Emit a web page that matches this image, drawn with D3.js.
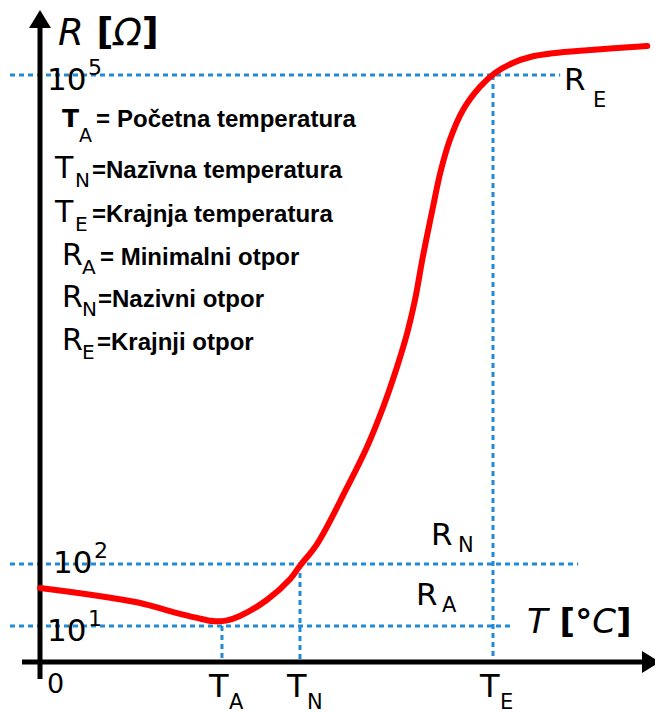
<!DOCTYPE html>
<html><head><meta charset="utf-8">
<script src="https://cdn.jsdelivr.net/npm/d3@7"></script>
<style>body{margin:0;background:#fff}svg{display:block}</style>
</head><body>
<script>
// ---- data ----
const curveT = [0, 5.5, 11.2, 16.7, 22.2, 26.2, 28.8, 31.0, 33.3, 37.8, 41.7, 43.3, 46.2, 51.2, 54.5, 57.2, 59.5, 61.2, 62.5, 63.8, 65.5, 66.7, 68.3, 70.5, 73.3, 75.8, 78.8, 81.7, 85.5, 91.2, 101.2];
const curveR = [41, 35, 29, 23.5, 16.8, 13.5, 12, 12.2, 14.5, 26.3, 57.3, 93, 133, 296, 522, 918, 1617, 2612, 4170, 7640, 15500, 25000, 39900, 61000, 84300, 102800, 118600, 129000, 136000, 142000, 150600];
const refNames = ["A", "N", "E"];
const refT = [30.33, 43.33, 75.5];      // T_A, T_N, T_E
const refR = [10, 100, 1e5];            // R_A(10^1), R_N(10^2), R_E(10^5)
const hLineEndT = [78.8, 89.7, 86.7];
const tickExp = ["1", "2", "5"];
const legend = [
  ["T", "A", "= Početna temperatura"],
  ["T", "N", "=Nazīvna temperatura"],
  ["T", "E", " =Krajnja temperatura"],
  ["R", "A", "= Minimalni otpor"],
  ["R", "N", "=Nazivni otpor"],
  ["R", "E", "=Krajnji otpor"]
];

const W = 655, H = 713;
const svg = d3.select("body").append("svg").attr("width", W).attr("height", H);
const x = d3.scaleLinear().domain([0, 100]).range([40, 640]);
const y = d3.scaleLog().domain([10, 100, 1e5]).range([626, 564, 75]);

const blue = "#238bd6";
const dash = "5,4";
const big = "'DejaVu Sans', sans-serif";
const arial = "'Liberation Sans', Arial, sans-serif";

// horizontal dotted lines
refR.forEach((r, i) => {
  svg.append("line").attr("x1", x(-5)).attr("x2", x(hLineEndT[i]))
    .attr("y1", y(r)).attr("y2", y(r))
    .attr("stroke", blue).attr("stroke-width", 3).attr("stroke-dasharray", dash);
});
// vertical dotted lines
refT.forEach((t, i) => {
  svg.append("line").attr("x1", x(t)).attr("x2", x(t))
    .attr("y1", y(refR[i])).attr("y2", 664)
    .attr("stroke", blue).attr("stroke-width", 3).attr("stroke-dasharray", dash);
});

// axes
svg.append("line").attr("x1", 40).attr("x2", 40).attr("y1", 24).attr("y2", 679)
  .attr("stroke", "#000").attr("stroke-width", 5);
svg.append("line").attr("x1", 22).attr("x2", 645).attr("y1", 662).attr("y2", 662)
  .attr("stroke", "#000").attr("stroke-width", 5);
svg.append("path").attr("d", "M40,10 L29,28 L51,28 Z").attr("fill", "#000");
svg.append("path").attr("d", "M660,662 L642,651 L642,673 Z").attr("fill", "#000");

// curve
const line = d3.line().x((d, i) => x(curveT[i])).y((d, i) => y(curveR[i])).curve(d3.curveCatmullRom);
svg.append("path").datum(curveT).attr("d", line)
  .attr("fill", "none").attr("stroke", "#ff0000").attr("stroke-width", 6).attr("stroke-linecap", "round");

function txt(s, px, py, size, opts = {}) {
  return svg.append("text").attr("x", px).attr("y", py).text(s)
    .attr("font-family", opts.family || big).attr("font-size", size)
    .attr("font-style", opts.italic ? "italic" : null)
    .attr("font-weight", opts.bold ? "bold" : null)
    .attr("fill", "#000");
}

// axis titles
const rt = svg.append("text").attr("x", 58).attr("y", 45).attr("font-family", big).attr("font-size", 37);
rt.append("tspan").text("R").attr("font-style", "italic");
rt.append("tspan").text(" [").attr("font-weight", "bold");
rt.append("tspan").text("Ω").attr("font-style", "italic");
rt.append("tspan").text("]").attr("font-weight", "bold");
const tt = svg.append("text").attr("x", 527).attr("y", 633).attr("font-family", big).attr("font-size", 34);
tt.append("tspan").text("T").attr("font-style", "italic");
tt.append("tspan").text(" [°").attr("font-weight", "bold");
tt.append("tspan").text("C").attr("font-style", "italic");
tt.append("tspan").text("]").attr("font-weight", "bold");

// y tick labels
refR.forEach((r, i) => {
  const yy = y(r) + (i === 1 ? 9 : 15);
  const xx = i === 1 ? 53 : 47;
  txt("10", xx, yy, 31);
  txt(tickExp[i], xx + 41, yy - 15, 22);
});
txt("0", 47, 693, 27);

// x tick labels
refT.forEach((t, i) => {
  txt("T", x(t) - 13, 697, 32);
  txt(refNames[i], x(t) + 7, 709, 21);
});

// R labels at right
txt("R", 431, 545, 31); txt("N", 458, 552, 21);
txt("R", 416, 605, 31); txt("A", 442, 612, 21);
txt("R", 564, 90, 31); txt("E", 593, 107, 21);

// legend
const legY = [127, 178, 222, 265, 307, 350];
const legX = [62, 55, 55, 62, 62, 62];
const legTextX = [117, 92, 92, 100, 98, 97];
legend.forEach((l, i) => {
  const by = legY[i];
  if (i === 0) {
    txt(l[0], legX[i], by, 25, {bold: true});
    txt(l[1], 79, by + 15, 19);
    txt("=", 96, by, 24, {family: arial, bold: true});
    txt(l[2].slice(2), legTextX[i], by, 24, {family: arial, bold: true});
  } else {
    txt(l[0], legX[i], by, 30);
    txt(l[1], legX[i] + 20, by + 9, 20);
    txt(l[2], legTextX[i], by, 24, {family: arial, bold: true});
  }
});
</script>
</body></html>
